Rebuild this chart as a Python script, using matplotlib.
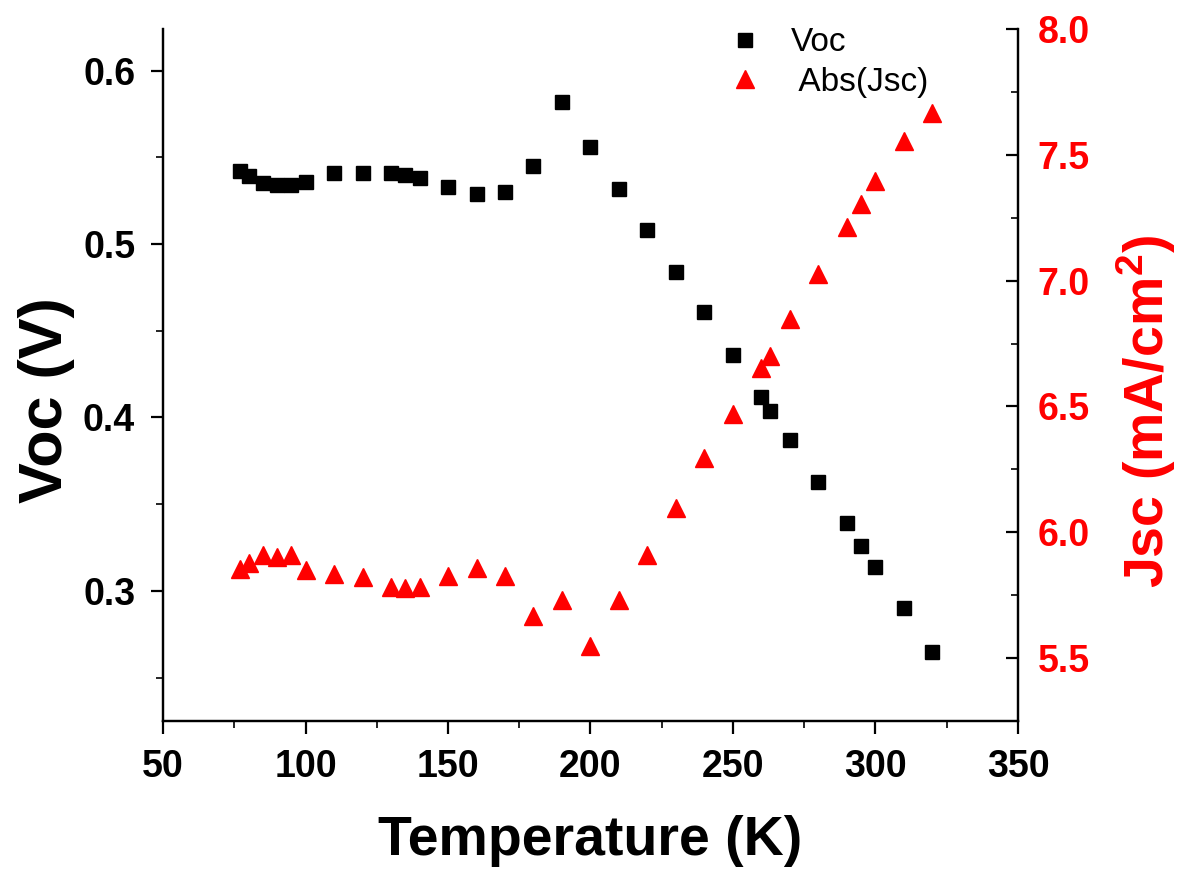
import matplotlib
matplotlib.use("Agg")
from matplotlib import pyplot as plt
from matplotlib.ticker import MultipleLocator

plt.rcParams['font.family'] = ['Liberation Sans', 'DejaVu Sans']
plt.rcParams['mathtext.fontset'] = 'custom'
plt.rcParams['mathtext.rm'] = 'Liberation Sans'
plt.rcParams['mathtext.bf'] = 'Liberation Sans:bold'
plt.rcParams['mathtext.default'] = 'bf'

# Voc vs temperature
temp_voc = [77, 80, 85, 90, 95, 100, 110, 120, 130, 135, 140, 150, 160, 170, 180,
            190, 200, 210, 220, 230, 240, 250, 260, 263, 270, 280, 290, 295, 300, 310, 320]
voc = [0.542, 0.539, 0.535, 0.534, 0.534, 0.536, 0.541, 0.541, 0.541, 0.540, 0.538,
       0.533, 0.529, 0.530, 0.545, 0.582, 0.556, 0.532, 0.508, 0.484, 0.461, 0.436,
       0.412, 0.404, 0.387, 0.363, 0.339, 0.326, 0.314, 0.290, 0.265]

# |Jsc| vs temperature
temp_jsc = [77, 80, 85, 90, 95, 100, 110, 120, 130, 135, 140, 150, 160, 170, 180,
            190, 200, 210, 220, 230, 240, 250, 260, 263, 270, 280, 290, 295, 300, 310, 320]
jsc = [5.853, 5.877, 5.909, 5.901, 5.909, 5.849, 5.833, 5.821, 5.782, 5.778, 5.782,
       5.825, 5.857, 5.825, 5.667, 5.730, 5.548, 5.730, 5.909, 6.095, 6.294, 6.472,
       6.651, 6.702, 6.849, 7.028, 7.214, 7.306, 7.397, 7.556, 7.667]

fig = plt.figure(figsize=(11.83, 8.72), dpi=100)
ax = fig.add_axes([0.1378, 0.1732, 0.7227, 0.7935])
ax2 = ax.twinx()

p1, = ax.plot(temp_voc, voc, 's', color='black', markersize=10, label='Voc')
p2, = ax2.plot(temp_jsc, jsc, '^', color='#FF0000', markersize=13, label=' Abs(Jsc)')

ax.set_xlim(50, 350)
ax.set_ylim(0.225, 0.624)
ax2.set_ylim(5.25, 8.0)

ax.xaxis.set_major_locator(MultipleLocator(50))
ax.xaxis.set_minor_locator(MultipleLocator(25))
ax.yaxis.set_major_locator(MultipleLocator(0.1))
ax.yaxis.set_minor_locator(MultipleLocator(0.05))
ax2.yaxis.set_major_locator(MultipleLocator(0.5))
ax2.yaxis.set_minor_locator(MultipleLocator(0.25))

for a in (ax, ax2):
    a.spines['top'].set_visible(False)
    for s in a.spines.values():
        s.set_linewidth(1.6)

ax.tick_params(axis='both', which='major', direction='out', length=9, width=1.6,
               labelsize=27)
ax.tick_params(axis='x', which='major', pad=11)
ax.tick_params(axis='y', which='major', pad=11)
ax.tick_params(axis='both', which='minor', direction='out', length=5, width=1.2)
ax2.tick_params(axis='y', which='major', direction='in', length=9, width=1.6,
                labelsize=27, labelcolor='#FF0000', pad=14)
ax2.tick_params(axis='y', which='minor', direction='in', length=5, width=1.2)

for lab in ax.get_xticklabels() + ax.get_yticklabels() + ax2.get_yticklabels():
    lab.set_fontweight('bold')

ax.set_xlabel('Temperature (K)', fontsize=40, fontweight='bold')
ax.set_ylabel('Voc (V)', fontsize=44, fontweight='bold')
ax2.set_ylabel(r'Jsc (mA/cm$^{2}$)', fontsize=40, fontweight='bold', color='#FF0000')
ax.xaxis.set_label_coords(0.5, -0.136)
ax.yaxis.set_label_coords(-0.103, 0.464)
ax2.yaxis.set_label_coords(1.113, 0.447)

fig.legend(handles=[p1, p2], loc='upper left', bbox_to_anchor=(0.590, 1.003),
           frameon=False, fontsize=24, labelspacing=0.25, handlelength=1.0,
           handletextpad=0.9, markerscale=0.95)

fig.savefig('out.png', dpi=100)
